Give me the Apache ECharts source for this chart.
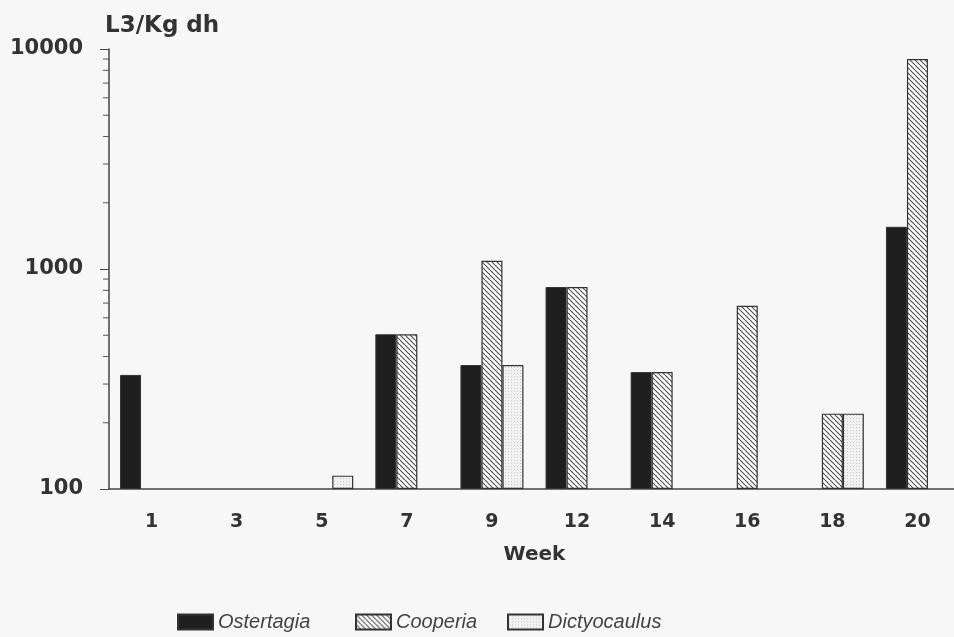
<!DOCTYPE html>
<html>
<head>
<meta charset="utf-8">
<script src="https://cdn.jsdelivr.net/npm/echarts@6/dist/echarts.min.js"></script>
<style>
  html, body { margin: 0; padding: 0; background: #f7f7f7; }
  #chart { width: 954px; height: 637px; }
</style>
</head>
<body>
<div id="chart"></div>
<script>
// Larval counts (L3 per kg dry herbage) by sampling week
const weeks = ['1', '3', '5', '7', '9', '12', '14', '16', '18', '20'];
const ostertagia   = [330, null, null, 505, 366, 828, 340, null, null, 1555];
const cooperia     = [null, null, null, 505, 1090, 828, 340, 680, 220, 9000];
const dictyocaulus = [null, null, 115, null, 366, null, null, null, 220, null];

// Log-axis minor tick values
const minorTicks = [200, 300, 400, 500, 600, 700, 800, 900,
                    2000, 3000, 4000, 5000, 6000, 7000, 8000, 9000];

const FONT = 'DejaVu Sans';

// Diagonal hatching used for Cooperia
function hatchPattern() {
  const s = 5;
  const c = document.createElement('canvas');
  c.width = s; c.height = s;
  const g = c.getContext('2d');
  g.fillStyle = '#ffffff';
  g.fillRect(0, 0, s, s);
  g.strokeStyle = '#4a4a4a';
  g.lineWidth = 1.1;
  for (const k of [-s, 0, s]) {
    g.beginPath();
    g.moveTo(k, 0);
    g.lineTo(k + s, s);
    g.stroke();
  }
  return c;
}

// Fine stipple used for Dictyocaulus
function stipplePattern() {
  const c = document.createElement('canvas');
  c.width = 3; c.height = 3;
  const g = c.getContext('2d');
  g.fillStyle = '#f1f1f1';
  g.fillRect(0, 0, 3, 3);
  g.fillStyle = '#c8c8c8';
  g.fillRect(1, 1, 1, 1);
  return c;
}

const chart = echarts.init(document.getElementById('chart'));

const barBase = {
  type: 'bar',
  barWidth: 21,
  barGap: '0%',
  clip: true
};

const legendText = {
  fontFamily: 'Liberation Sans',
  fontStyle: 'italic',
  fontSize: 20,
  color: '#444'
};

function legendAt(name, left) {
  return {
    data: [name],
    left: left,
    top: 607,
    icon: 'rect',
    itemWidth: 35,
    itemHeight: 15,
    selectedMode: false,
    textStyle: legendText
  };
}

chart.setOption({
  backgroundColor: '#f7f7f7',
  animation: false,
  grid: {
    left: 109,
    top: 49,
    right: -6,
    bottom: 148,
    containLabel: false,
    outerBoundsMode: 'none'
  },
  graphic: [{
    type: 'text',
    left: 105,
    top: 15,
    style: {
      text: 'L3/Kg dh',
      font: 'bold 23px "DejaVu Sans"',
      fill: '#333'
    }
  }],
  legend: [
    legendAt('Ostertagia', 172),
    legendAt('Cooperia', 350),
    legendAt('Dictyocaulus', 502)
  ],
  xAxis: {
    type: 'category',
    data: weeks,
    name: 'Week',
    nameLocation: 'middle',
    nameGap: 56,
    nameTextStyle: { fontFamily: FONT, fontWeight: 'bold', fontSize: 20, color: '#333' },
    axisLine: { lineStyle: { color: '#444', width: 1.5 } },
    axisTick: { alignWithLabel: true, length: 5, lineStyle: { color: '#555' } },
    axisLabel: { fontFamily: FONT, fontWeight: 'bold', fontSize: 19, color: '#333', margin: 24 },
    splitLine: { show: false }
  },
  yAxis: {
    type: 'log',
    logBase: 10,
    min: 100,
    max: 10000,
    startValue: 100,
    axisLine: { show: true, lineStyle: { color: '#444', width: 1.5 } },
    axisTick: { show: true, length: 9, lineStyle: { color: '#444' } },
    axisLabel: {
      fontFamily: FONT, fontWeight: 'bold', fontSize: 21, color: '#333', margin: 26,
      formatter: function (v) { return String(Math.round(v)); }
    },
    splitLine: { show: false }
  },
  series: [
    Object.assign({}, barBase, {
      name: 'Ostertagia',
      data: ostertagia,
      itemStyle: { color: '#1f1f1f', borderColor: '#333', borderWidth: 1 }
    }),
    Object.assign({}, barBase, {
      name: 'Cooperia',
      data: cooperia,
      itemStyle: {
        color: { image: hatchPattern(), repeat: 'repeat' },
        borderColor: '#333', borderWidth: 1.2
      }
    }),
    Object.assign({}, barBase, {
      name: 'Dictyocaulus',
      data: dictyocaulus,
      itemStyle: {
        color: { image: stipplePattern(), repeat: 'repeat' },
        borderColor: '#333', borderWidth: 1.2
      }
    }),
    {
      // minor ticks on the left of the log axis
      type: 'custom',
      name: 'minor',
      silent: true,
      clip: false,
      data: minorTicks.map(function (v) { return [0, v]; }),
      encode: { x: 0, y: 1 },
      renderItem: function (params, api) {
        const y = api.coord([0, api.value(1)])[1];
        const x = params.coordSys.x;
        return {
          type: 'line',
          shape: { x1: x - 6, y1: y, x2: x, y2: y },
          style: { stroke: '#555', lineWidth: 1 }
        };
      }
    }
  ]
});
</script>
</body>
</html>
